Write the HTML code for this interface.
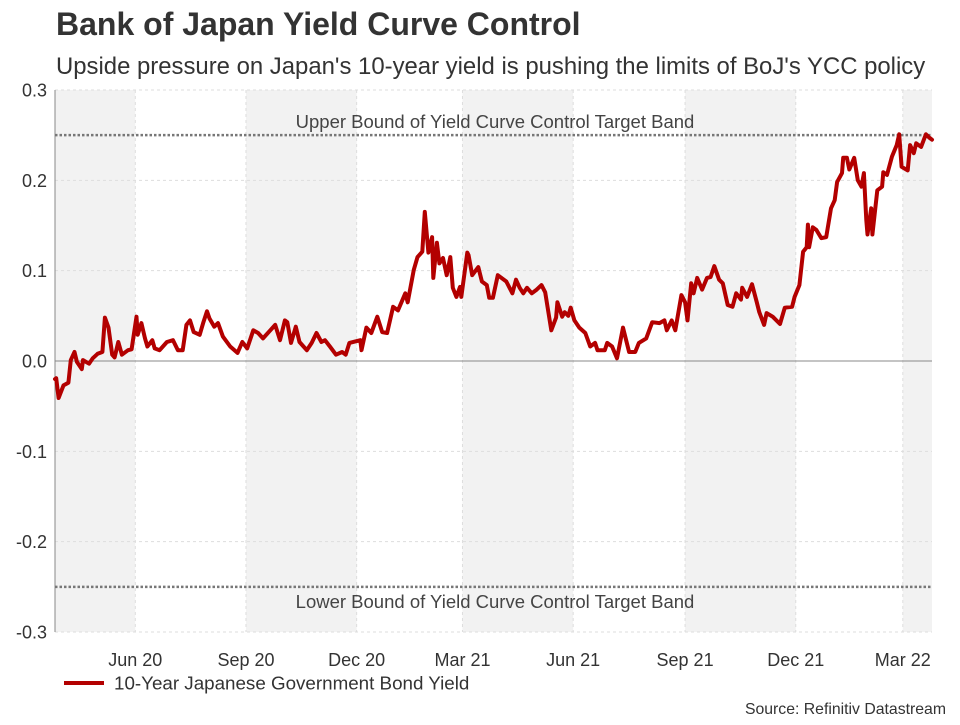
<!DOCTYPE html>
<html><head><meta charset="utf-8"><style>
body{margin:0;background:#fff;font-family:"Liberation Sans",Arial,sans-serif;}
svg text{font-family:"Liberation Sans",Arial,sans-serif;}
</style></head><body>
<svg id="c" width="960" height="720" xmlns="http://www.w3.org/2000/svg">
<text x="56" y="35" font-size="32" font-weight="bold" fill="#333">Bank of Japan Yield Curve Control</text>
<text x="56" y="74" font-size="23.9" fill="#333">Upside pressure on Japan's 10-year yield is pushing the limits of BoJ's YCC policy</text>
<g id="bands"></g><g id="grid"></g><g id="axes"></g><g id="series"></g>
<line x1="64" y1="683" x2="104" y2="683" stroke="#b30000" stroke-width="4"/>
<text x="114" y="689.5" font-size="18.8" fill="#333">10-Year Japanese Government Bond Yield</text>
<text x="946" y="714" font-size="15.8" fill="#333" text-anchor="end">Source: Refinitiv Datastream</text>
</svg>
<script>
const days=[0,1,3,7,11,13,16,18,22,23,28,31,35,39,41,44,47,49,52,55,60,63,67,68,71,74,76,80,82,86,92,97,101,105,108,111,114,119,122,125,127,131,134,138,144,150,154,158,163,167,171,177,181,185,189,191,194,198,201,207,211,215,219,222,226,231,236,239,242,251,252,256,260,265,269,273,278,282,288,290,295,298,302,304,307,310,311,314,316,319,322,325,327,330,333,334,339,340,343,348,351,355,357,360,364,371,376,379,382,385,388,392,396,400,403,408,412,413,417,419,422,424,427,431,436,440,444,446,452,454,458,462,467,472,477,480,486,491,497,501,503,507,510,515,518,520,523,525,528,532,536,539,542,546,549,553,557,560,564,565,569,573,577,579,583,585,590,596,600,606,608,612,615,618,619,620,623,626,630,634,638,641,643,647,648,651,653,657,660,663,665,667,668,671,672,676,680,681,684,688,692,694,696,701,703,706,708,712,716,719,721];
const yields=[-0.02,-0.019,-0.041,-0.027,-0.024,0.001,0.010,-0.001,-0.009,0.001,-0.003,0.003,0.008,0.010,0.048,0.037,0.007,0.004,0.021,0.007,0.012,0.013,0.049,0.029,0.042,0.025,0.016,0.023,0.014,0.012,0.021,0.023,0.012,0.012,0.040,0.045,0.032,0.029,0.043,0.055,0.047,0.038,0.042,0.027,0.016,0.009,0.021,0.014,0.034,0.031,0.025,0.034,0.040,0.023,0.045,0.043,0.020,0.038,0.021,0.012,0.020,0.031,0.021,0.023,0.016,0.007,0.010,0.007,0.020,0.023,0.012,0.037,0.031,0.049,0.032,0.031,0.060,0.056,0.075,0.065,0.101,0.115,0.121,0.165,0.120,0.137,0.092,0.131,0.108,0.114,0.095,0.115,0.081,0.071,0.082,0.071,0.120,0.117,0.095,0.104,0.088,0.084,0.070,0.070,0.095,0.088,0.075,0.090,0.081,0.075,0.081,0.075,0.079,0.084,0.076,0.034,0.048,0.065,0.049,0.054,0.050,0.059,0.045,0.037,0.031,0.016,0.020,0.012,0.012,0.020,0.016,0.003,0.037,0.010,0.010,0.020,0.025,0.043,0.042,0.045,0.034,0.045,0.034,0.073,0.065,0.045,0.086,0.075,0.092,0.079,0.092,0.093,0.105,0.090,0.086,0.062,0.060,0.075,0.068,0.081,0.071,0.085,0.065,0.054,0.040,0.053,0.049,0.041,0.059,0.060,0.071,0.084,0.121,0.126,0.151,0.126,0.148,0.145,0.136,0.137,0.169,0.178,0.198,0.208,0.225,0.225,0.212,0.225,0.200,0.193,0.208,0.156,0.140,0.169,0.140,0.189,0.193,0.209,0.206,0.226,0.239,0.251,0.215,0.211,0.239,0.230,0.241,0.237,0.251,0.247,0.245];
const monthDays=[66,157,248,335,426,518,609,697];
const monthLabels=["Jun 20","Sep 20","Dec 20","Mar 21","Jun 21","Sep 21","Dec 21","Mar 22"];
const yTicks=[0.3,0.2,0.1,0.0,-0.1,-0.2,-0.3];
const yTickLabels=["0.3","0.2","0.1","0.0","-0.1","-0.2","-0.3"];
const bounds=[0.25,-0.25];
const boundLabels=["Upper Bound of Yield Curve Control Target Band","Lower Bound of Yield Curve Control Target Band"];
const X0=55,X1=932,Y0=90,Y1=632,DMAX=721;
const xs=d=>X0+d*(X1-X0)/DMAX;
const ys=v=>Y0+(0.3-v)*(Y1-Y0)/0.6;
const NS="http://www.w3.org/2000/svg";
function mk(tag,attrs,parent,text){const e=document.createElementNS(NS,tag);for(const k in attrs)e.setAttribute(k,attrs[k]);if(text!==undefined)e.textContent=text;parent.appendChild(e);return e;}
const bandsG=document.getElementById('bands'),gridG=document.getElementById('grid'),axesG=document.getElementById('axes'),serG=document.getElementById('series');
const edges=[0].concat(monthDays,[DMAX]);
for(let i=0;i<edges.length-1;i+=2){
 const r=mk('rect',{x:xs(edges[i]),y:Y0,width:xs(edges[i+1])-xs(edges[i]),height:Y1-Y0,fill:'#f2f2f2'},bandsG);
 
 
}
yTicks.forEach((t,i)=>{
 if(t!==0){const l=mk('line',{x1:X0,x2:X1,y1:ys(t),y2:ys(t),stroke:'#ddd','stroke-dasharray':'3,3'},gridG);
 
 }
 const tx=mk('text',{x:X0-8,y:ys(t)+6.5,'font-size':18,fill:'#333','text-anchor':'end'},axesG,yTickLabels[i]);
 
 
});
monthDays.forEach((d,i)=>{
 const l=mk('line',{x1:xs(d),x2:xs(d),y1:Y0,y2:Y1,stroke:'#ddd','stroke-dasharray':'3,3'},gridG);
 
 
 const t=mk('text',{x:xs(d),y:666,'font-size':18,fill:'#333','text-anchor':'middle'},axesG,monthLabels[i]);
 
 
});
const zl=mk('line',{x1:X0,x2:X1,y1:ys(0),y2:ys(0),stroke:'#888','stroke-width':1},axesG);


const ya=mk('line',{x1:X0,x2:X0,y1:Y0,y2:Y1,stroke:'#888','stroke-width':1},axesG);


bounds.forEach((b,i)=>{
 const l=mk('line',{x1:X0,x2:X1,y1:ys(b),y2:ys(b),stroke:'#777','stroke-width':2.5,'stroke-dasharray':'2.5,2'},axesG);
 
 
 const t=mk('text',{x:495,y:ys(b)+(i==0?-7:21),'font-size':18.5,fill:'#444','text-anchor':'middle'},axesG,boundLabels[i]);
 
 
});
const pts=days.map((d,i)=>xs(d).toFixed(1)+','+ys(yields[i]).toFixed(1)).join(' ');
const pl=mk('polyline',{points:pts,fill:'none',stroke:'#b30000','stroke-width':4,'stroke-linejoin':'round','stroke-linecap':'round'},serG);


</script>
</body></html>
